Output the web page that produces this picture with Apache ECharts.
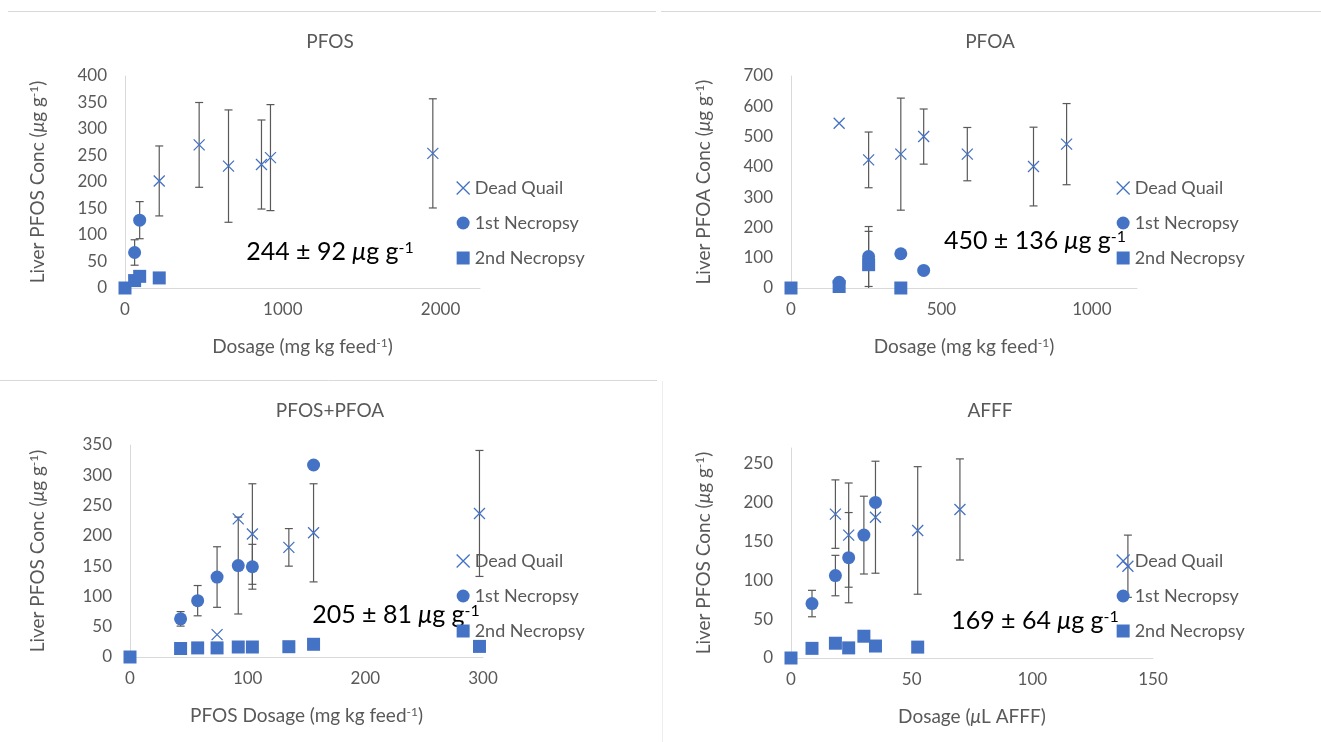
<!DOCTYPE html>
<html>
<head>
<meta charset="utf-8">
<script src="https://cdn.jsdelivr.net/npm/echarts@6/dist/echarts.min.js"></script>
<style>
html,body{margin:0;padding:0;background:#fff;}
#chart{width:1321px;height:742px;}
</style>
</head>
<body>
<div id="chart"></div>
<script>
// ---------- DATA ([dose, conc, errorBar or null]) ----------
const seriesNames = ['Dead Quail', '1st Necropsy', '2nd Necropsy'];
const panelTitles = ['PFOS', 'PFOA', 'PFOS+PFOA', 'AFFF'];
const panelNotes = ['244 ± 92 ', '450 ± 136 ', '205 ± 81 ', '169 ± 64 '];

const pfosDead = [[217,202,66],[470,270,80],[656,230,106],[865,233,84],[922,246,100],[1951,254,103]];
const pfosNec1 = [[61,67,24],[93,128,35]];
const pfosNec2 = [[0,0,null],[61,14,null],[93,22,null],[217,19,null]];

const pfoaDead = [[160,544,null],[258,423,92],[365,442,185],[441,500,91],[586,442,88],[806,401,130],[916,475,134]];
const pfoaNec1 = [[160,19,null],[258,104,99],[365,113,null],[441,58,null]];
const pfoaNec2 = [[0,0,null],[160,5,null],[258,77,110],[365,0,null]];

const mixDead = [[74,37,null],[92,228,null],[104,203,83],[135,181,31],[156,205,81],[297,237,104]];
const mixNec1 = [[43,63,12],[57.5,93,25],[74,132,50],[92,151,80],[104,149,37],[156,317,null]];
const mixNec2 = [[0,0,null],[43,14,null],[57.5,15,null],[74,15,null],[92,16.5,null],[104,16.5,null],[135,17,null],[156,21,null],[297,17.5,null]];

const afffDead = [[18.4,185,44],[23.9,158,67],[35,181,72],[52.5,164,82],[70,191,65],[139.6,118,40]];
const afffNec1 = [[8.7,70,17],[18.4,106,26],[23.9,129,58],[30.2,158,50],[35,200,null]];
const afffNec2 = [[0,0,null],[8.7,12.4,null],[18.4,19,null],[23.9,13,null],[30.2,28,null],[35,15.4,null],[52.5,14,null]];

const xTicks = [[0,1000,2000],[0,500,1000],[0,100,200,300],[0,50,100,150]];
const yTicks = [[0,50,100,150,200,250,300,350,400],[0,100,200,300,400,500,600,700],[0,50,100,150,200,250,300,350],[0,50,100,150,200,250]];

// ---------- STYLE / LAYOUT ----------
const FONT = 'Lato';
const GRAY = '#595959';
const BLUE = '#4472C4';
const XPATH = 'path://M0,0L10,10M10,0L0,10';

const panels = [
  {dead:pfosDead, n1:pfosNec1, n2:pfosNec2, grid:{left:125,top:76,width:355,height:212}, xMax:2250, xInt:1000, yMax:400, yInt:50, yGap:78,
   xName:'Dosage (mg kg feed{sup|-1})', yName:'Liver PFOS Conc ({i|μ}g g{sup|-1})', titleXY:[330,42], noteXY:[330,252], legend:[451,174]},
  {dead:pfoaDead, n1:pfoaNec1, n2:pfoaNec2, grid:{left:791,top:76,width:346,height:212}, xMax:1150, xInt:500, yMax:700, yInt:100, yGap:78,
   xName:'Dosage (mg kg feed{sup|-1})', yName:'Liver PFOA Conc ({i|μ}g g{sup|-1})', titleXY:[990,42], noteXY:[1035,241], legend:[1111,174]},
  {dead:mixDead, n1:mixNec1, n2:mixNec2, grid:{left:130,top:445,width:353,height:212}, xMax:300, xInt:100, yMax:350, yInt:50, yGap:83,
   xName:'PFOS Dosage (mg kg feed{sup|-1})', yName:'Liver PFOS Conc ({i|μ}g g{sup|-1})', titleXY:[330,411], noteXY:[396,615], legend:[451,547]},
  {dead:afffDead, n1:afffNec1, n2:afffNec2, grid:{left:791,top:448,width:362,height:210}, xMax:150, xInt:50, yMax:270, yInt:50, yGap:78,
   xName:'Dosage ({i|μ}L AFFF)', yName:'Liver PFOS Conc ({i|μ}g g{sup|-1})', titleXY:[990,411], noteXY:[1035,621], legend:[1111,547]}
];

function richFor(size, color) {
  return {
    i: {fontStyle:'italic', fontSize:size, color:color, fontFamily:FONT},
    sup: {fontSize:Math.round(size*0.62), verticalAlign:'top', color:color, fontFamily:FONT}
  };
}

function errorSeries(idx, data) {
  return {
    type:'custom', xAxisIndex:idx, yAxisIndex:idx, silent:true, z:1,
    data: data,
    encode:{x:0, y:1},
    renderItem: function (params, api) {
      const x = api.value(0), y = api.value(1), e = api.value(2);
      const lo = Math.max(0, y - e), hi = y + e;
      const pHi = api.coord([x, hi]);
      const pLo = api.coord([x, lo]);
      const st = {stroke:'#595959', lineWidth:1.2};
      const cap = 4;
      const children = [
        {type:'line', shape:{x1:pHi[0], y1:pHi[1], x2:pLo[0], y2:pLo[1]}, style:st},
        {type:'line', shape:{x1:pHi[0]-cap, y1:pHi[1], x2:pHi[0]+cap, y2:pHi[1]}, style:st}
      ];
      if (y - e >= 0) {
        children.push({type:'line', shape:{x1:pLo[0]-cap, y1:pLo[1], x2:pLo[0]+cap, y2:pLo[1]}, style:st});
      }
      return {type:'group', children:children};
    }
  };
}

const grids = [], xAxes = [], yAxes = [], series = [], legends = [], graphics = [];

panels.forEach(function (p, i) {
  grids.push(Object.assign({containLabel:false}, p.grid));
  const xt = xTicks[i], yt = yTicks[i];
  xAxes.push({
    gridIndex:i, type:'value', min:0, max:p.xMax, interval:p.xInt,
    axisLine:{show:true, onZero:false, lineStyle:{color:'#D9D9D9', width:1}},
    axisTick:{show:false}, splitLine:{show:false},
    axisLabel:{color:GRAY, fontSize:17, fontFamily:FONT, margin:13,
      formatter:function (v) { return xt.indexOf(v) >= 0 ? String(v) : ''; }},
    name:p.xName, nameLocation:'middle', nameGap:49,
    nameTextStyle:{color:GRAY, fontSize:19, fontFamily:FONT, rich:richFor(19, GRAY)}
  });
  yAxes.push({
    gridIndex:i, type:'value', min:0, max:p.yMax, interval:p.yInt,
    axisLine:{show:true, onZero:false, lineStyle:{color:'#D9D9D9', width:1}},
    axisTick:{show:false}, splitLine:{show:false},
    axisLabel:{color:GRAY, fontSize:17, fontFamily:FONT, margin:18,
      formatter:function (v) { return yt.indexOf(v) >= 0 ? String(v) : ''; }},
    name:p.yName, nameLocation:'middle', nameGap:p.yGap,
    nameTextStyle:{color:GRAY, fontSize:19, fontFamily:FONT, rich:richFor(19, GRAY)}
  });

  series.push(errorSeries(i, p.dead.concat(p.n1, p.n2).filter(function (d) { return d[2] != null; })));
  series.push({
    name:seriesNames[0], type:'scatter', xAxisIndex:i, yAxisIndex:i, z:3,
    symbol:XPATH, symbolSize:11,
    itemStyle:{color:'rgba(0,0,0,0)', borderColor:BLUE, borderWidth:1.3, opacity:1},
    data:p.dead.map(function (d) { return [d[0], d[1]]; })
  });
  series.push({
    name:seriesNames[1], type:'scatter', xAxisIndex:i, yAxisIndex:i, z:3,
    symbol:'circle', symbolSize:13,
    itemStyle:{color:BLUE, opacity:1},
    data:p.n1.map(function (d) { return [d[0], d[1]]; })
  });
  series.push({
    name:seriesNames[2], type:'scatter', xAxisIndex:i, yAxisIndex:i, z:3,
    symbol:'rect', symbolSize:13,
    itemStyle:{color:BLUE, opacity:1},
    data:p.n2.map(function (d) { return [d[0], d[1]]; })
  });

  legends.push({
    left:p.legend[0], top:p.legend[1], orient:'vertical', itemGap:17, itemWidth:13, itemHeight:13,
    selectedMode:false,
    textStyle:{color:GRAY, fontSize:18, fontFamily:FONT},
    data:[
      {name:seriesNames[0], icon:XPATH, itemStyle:{color:'rgba(0,0,0,0)', borderColor:BLUE, borderWidth:1.3}},
      {name:seriesNames[1], icon:'circle', itemStyle:{color:BLUE}},
      {name:seriesNames[2], icon:'rect', itemStyle:{color:BLUE}}
    ]
  });

  graphics.push({
    type:'text', x:p.titleXY[0], y:p.titleXY[1], silent:true,
    style:{text:panelTitles[i], fill:GRAY, fontSize:19, fontFamily:FONT, align:'center', verticalAlign:'middle'}
  });
  graphics.push({
    type:'text', x:p.noteXY[0], y:p.noteXY[1], silent:true,
    style:{text:panelNotes[i] + '{i|μ}g g{sup|-1}', fill:'#000', fontSize:25, fontFamily:FONT,
      align:'center', verticalAlign:'middle', rich:richFor(25, '#000')}
  });
});

// panel separator lines
graphics.push({type:'line', silent:true, shape:{x1:8, y1:11.5, x2:656, y2:11.5}, style:{stroke:'#D9D9D9', lineWidth:1}});
graphics.push({type:'line', silent:true, shape:{x1:661, y1:11.5, x2:1321, y2:11.5}, style:{stroke:'#D9D9D9', lineWidth:1}});
graphics.push({type:'line', silent:true, shape:{x1:0, y1:380.5, x2:657, y2:380.5}, style:{stroke:'#D9D9D9', lineWidth:1}});
graphics.push({type:'line', silent:true, shape:{x1:662.5, y1:381, x2:662.5, y2:742}, style:{stroke:'#EDEDED', lineWidth:1}});

const chart = echarts.init(document.getElementById('chart'), null, {renderer:'canvas'});
chart.setOption({
  animation:false,
  backgroundColor:'#ffffff',
  textStyle:{fontFamily:FONT},
  grid:grids, xAxis:xAxes, yAxis:yAxes, series:series, legend:legends, graphic:graphics
});
</script>
</body>
</html>
